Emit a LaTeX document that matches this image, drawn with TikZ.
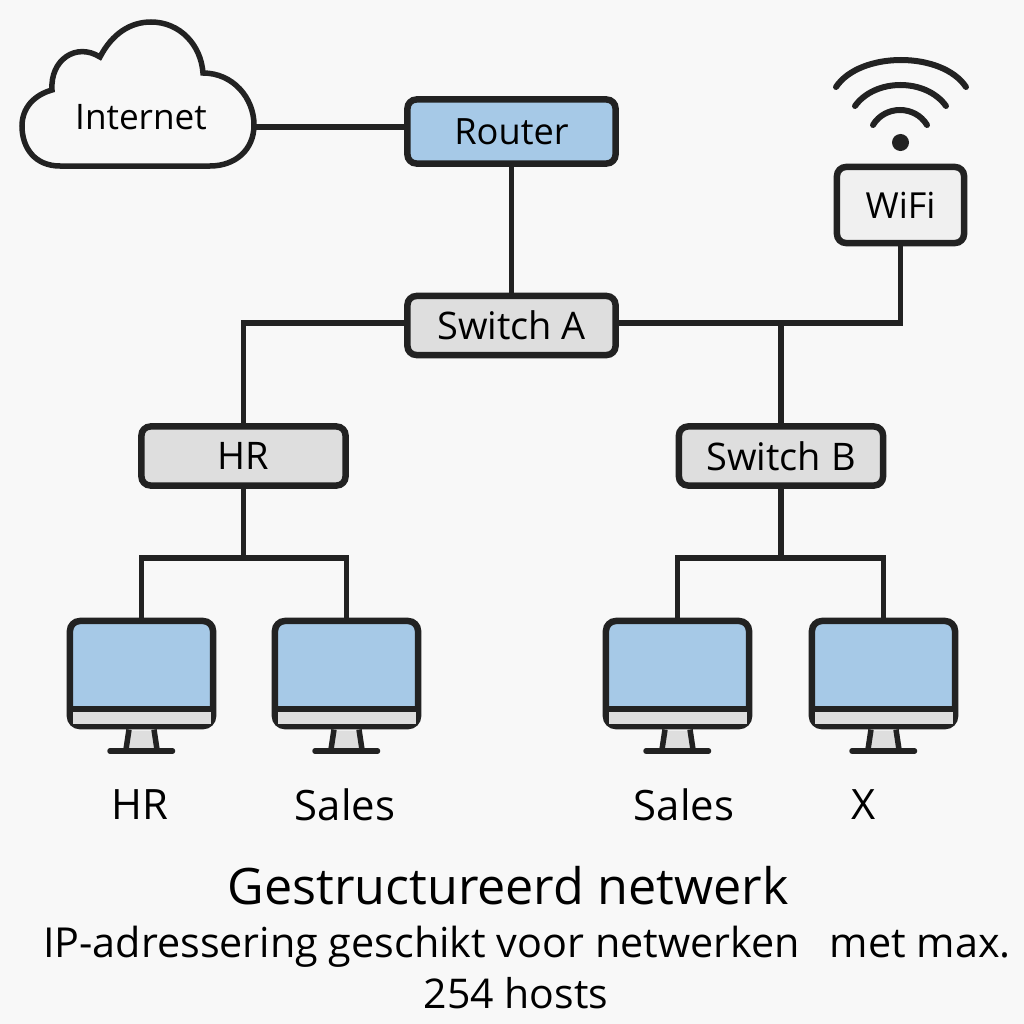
\documentclass[tikz,border=0pt]{standalone}
\usepackage{fontspec}
\setmainfont{Open Sans}
\usetikzlibrary{positioning}
\definecolor{inkc}{HTML}{222222}
\definecolor{bluec}{HTML}{A6C9E7}
\definecolor{grayc}{HTML}{DEDEDE}
\definecolor{paperc}{HTML}{F8F8F8}
\tikzset{
	box/.style={draw=inkc, line width=0.065cm, rounded corners=0.09cm, inner sep=0pt, text=black, font=\fontsize{10.2}{12}\selectfont},
	routerbox/.style={box, fill=bluec, minimum width=2.08cm, minimum height=0.64cm, font=\fontsize{10.3}{12}\selectfont},
	switchbox/.style={box, fill=grayc, minimum width=2.04cm, minimum height=0.59cm, font=\fontsize{10.8}{12}\selectfont},
	wire/.style={draw=inkc, line width=0.055cm},
	tag/.style={text=black, inner sep=0pt, font=\fontsize{11.9}{14}\selectfont},
	wave/.style={draw=inkc, line width=0.06cm, line cap=round},
	pics/monitor/.style={code={
		\node[draw=inkc, line width=0.065cm, rounded corners=0.1cm, fill=bluec, minimum width=1.43cm, minimum height=1.05cm, inner sep=0pt] (-frame) at (0,0) {};
		\fill[grayc] (-69,36) rectangle (69,50);
		\draw[draw=inkc, line width=0.055cm] (-71,35.5) -- (71,35.5);
		\fill[grayc] (-12,57) -- (12,57) -- (15,76) -- (-15,76) -- cycle;
		\draw[draw=inkc, line width=0.055cm] (-12.5,56) -- (-15.5,76);
		\draw[draw=inkc, line width=0.055cm] (12.5,56) -- (15.5,76);
		\draw[draw=inkc, line width=0.055cm, line cap=round] (-31.5,77.5) -- (31,77.5);
	}}
}
\begin{document}
\begin{tikzpicture}[x=0.01cm,y=-0.01cm]
	\fill[paperc, use as bounding box] (0,0) rectangle (1024,1024);

	% cloud
	\draw[draw=inkc, line width=0.055cm, fill=paperc] (60,166) .. controls (35,166) and (22,148) .. (22,126)
		.. controls (22,108) and (34,95) .. (52,90)
		.. controls (50,60) and (76,42) .. (100,57)
		.. controls (112,34) and (130,22) .. (151,22)
		.. controls (180,22) and (201,45) .. (203,73)
		.. controls (233,73) and (254,98) .. (254,125)
		.. controls (254,150) and (235,166) .. (210,166) -- cycle;
	\node[tag, font=\fontsize{10}{12}\selectfont] (internet) at (141,117) {Internet};
	\coordinate (cloudport) at (253,127);

	% boxes
	\node[routerbox] (router) at (511.5,131.5) {Router};
	\node[switchbox, minimum width=2.08cm] (swa) at (511.5,325.5) {Switch A};
	\node[switchbox] (hr) at (243.5,456) {HR};
	\node[switchbox] (swb) at (781,456) {Switch B};
	\node[box, fill=black!6, minimum width=1.27cm, minimum height=0.76cm] (wifi) at (900.5,205) {WiFi};

	% wifi symbol
	\node[circle, fill=inkc, minimum size=0.17cm, inner sep=0pt] (wifidot) at (900.5,142.5) {};
	\draw[wave] (836,87) .. controls (860,51) and (942,51) .. (966,87);
	\draw[wave] (855,106) .. controls (875,78) and (926,78) .. (946,106);
	\draw[wave] (873,125) .. controls (885,105) and (915,105) .. (927,125);

	% monitors
	\pic (pca) at (141.5,673.5) {monitor};
	\pic (pcb) at (346.5,673.5) {monitor};
	\pic (pcc) at (677.5,673.5) {monitor};
	\pic (pcd) at (883.5,673.5) {monitor};

	% wires
	\coordinate (busa) at (511,323);
	\coordinate (bushr) at (243.5,558);
	\coordinate (busb) at (781,558);
	\draw[wire] (cloudport) -- (cloudport -| router.west);
	\draw[wire] (router.south) -- (swa.north);
	\draw[wire] (swa.west |- busa) -| (hr.north);
	\draw[wire] (swa.east |- busa) -| (wifi.south);
	\draw[wire] (swb.north |- busa) -- (swb.north);
	\draw[wire] (hr.south) -- (bushr);
	\draw[wire] (pca-frame.north) |- (bushr) -| (pcb-frame.north);
	\draw[wire] (swb.south) -- (busb);
	\draw[wire] (pcc-frame.north) |- (busb) -| (pcd-frame.north);

	% labels
	\node[tag] (labela) at (140,805) {HR};
	\node[tag] (labelb) at (345,805) {Sales};
	\node[tag] (labelc) at (684,805) {Sales};
	\node[tag] (labeld) at (864,805) {X};

	\node[tag, font=\fontsize{14.3}{16}\selectfont] (title) at (508,886) {Gestructureerd netwerk};
	\node[tag, font=\fontsize{11.75}{14}\selectfont] (subone) at (527,947) {IP-adressering geschikt voor netwerken\hspace{0.3cm}met max.};
	\node[tag, font=\fontsize{11.65}{14}\selectfont] (subtwo) at (516,993) {254 hosts};
\end{tikzpicture}
\end{document}
